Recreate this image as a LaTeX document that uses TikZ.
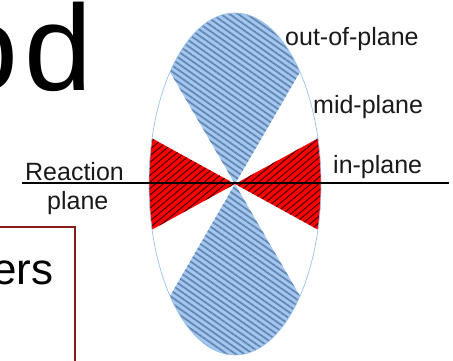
\documentclass[tikz,border=0pt]{standalone}
\usepackage{fontspec}
\setmainfont{Liberation Sans}
\usetikzlibrary{patterns.meta}

\definecolor{outfill}{HTML}{A2C8F2}
\definecolor{outline}{HTML}{6587B2}
\definecolor{inline}{HTML}{400000}
\definecolor{rim}{HTML}{9DC0E8}
\definecolor{frame}{HTML}{8B1A1A}

\begin{document}
\begin{tikzpicture}[x=1pt, y=-1pt,
    outwedge/.style={preaction={fill=outfill}, pattern={Lines[angle=-35, distance=5pt, line width=1.8pt]}, pattern color=outline},
    inwedge/.style={preaction={fill=red}, pattern={Lines[angle=40, distance=5pt, line width=1pt]}, pattern color=inline},
    lbl/.style={anchor=base west, inner sep=0pt, font=\fontsize{25}{28}\selectfont, text=black!90}
]
\useasboundingbox (0,0) rectangle (453,360);
\clip (0,0) rectangle (453,360);

% title and text box, cut by the slide edge
\node[anchor=base west, inner sep=0pt, font=\fontsize{122}{122}\selectfont] (title) at (-50,90) {o\kern6pt d};
\draw[frame, line width=1.2pt] (-5,227) rectangle (75,370);
\node[anchor=base east, inner sep=0pt, font=\fontsize{44}{48}\selectfont] (body) at (53.5,284) {ers};

% emission pattern
\coordinate (C) at (235,184);
\begin{scope}
  \clip (C) ellipse [x radius=86, y radius=171];
  \fill[outwedge] (C) -- ++(-116,-200) -- ++(232,0) -- cycle;
  \fill[outwedge] (C) -- ++(-116,200) -- ++(232,0) -- cycle;
  \fill[inwedge] (C) -- ++(-100,-55) -- ++(0,110) -- cycle;
  \fill[inwedge] (C) -- ++(100,-55) -- ++(0,110) -- cycle;
\end{scope}
\draw[rim, line width=0.7pt] (C) ellipse [x radius=86, y radius=171];

% reaction plane
\coordinate (rpL) at (22,183);
\coordinate (rpR) at (449,183);
\draw[line width=2.5pt] (rpL) -- (rpR);

\node[lbl] (out) at (285,45) {out-of-plane};
\node[lbl] (mid) at (313,113) {mid-plane};
\node[lbl] (in) at (333,173) {in-plane};
\node[lbl] (reac) at (25,180) {Reaction};
\node[lbl] (pln) at (47,209) {plane};
\end{tikzpicture}
\end{document}
